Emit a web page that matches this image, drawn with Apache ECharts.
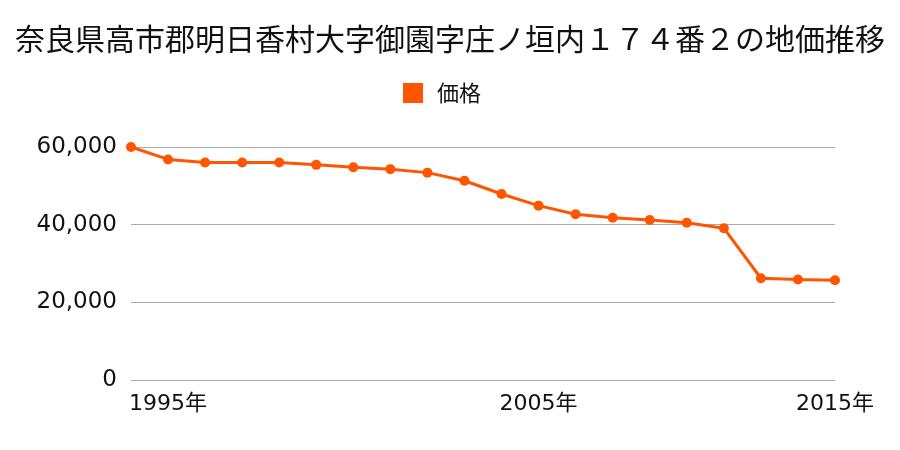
<!DOCTYPE html>
<html><head><meta charset="utf-8">
<script src="https://cdn.jsdelivr.net/npm/echarts@6/dist/echarts.min.js"></script>
<style>html,body{margin:0;padding:0;background:#fff}#c{width:900px;height:450px}</style>
</head><body><div id="c"></div>
<script>
const titleText = '奈良県高市郡明日香村大字御園字庄ノ垣内１７４番２の地価推移';
const seriesName = '価格';
const years = ['1994','1995','1996','1997','1998','1999','2000','2001','2002','2003','2004','2005','2006','2007','2008','2009','2010','2013','2014','2015'];
const prices = [60000,56800,56000,56000,56000,55400,54800,54300,53400,51300,47900,44900,42700,41800,41200,40500,39100,26200,25900,25700];
const shownYearLabels = ['1995','2005','2015'];

const chart = echarts.init(document.getElementById('c'), null, {renderer:'canvas'});
const cjk = '"Noto Sans CJK JP", "Noto Sans", sans-serif';
const num = '"DejaVu Sans", "Noto Sans CJK JP", sans-serif';
chart.setOption({
  animation:false,
  backgroundColor:'#fff',
  title:{text:titleText,left:'center',top:19,textStyle:{fontFamily:cjk,fontSize:30,fontWeight:'normal',color:'#111'}},
  legend:{data:[seriesName],top:77,left:398,itemWidth:20,itemHeight:20,icon:'rect',
    textStyle:{fontFamily:cjk,fontSize:22,color:'#111',padding:[0,0,0,9]}},
  grid:{left:131,right:65,top:147,bottom:70,containLabel:false},
  xAxis:{type:'category',data:years,boundaryGap:false,
    axisLine:{show:false},axisTick:{show:false},splitLine:{show:false},
    axisLabel:{interval:(i,v)=>shownYearLabels.includes(v),formatter:v=>v+'年',margin:13,
      fontFamily:num,fontSize:22,color:'#111'}},
  yAxis:{type:'value',min:0,max:60000,interval:20000,
    axisLine:{show:false},axisTick:{show:false},
    splitLine:{lineStyle:{color:'#aaa',width:1}},
    axisLabel:{margin:14,fontFamily:num,fontSize:23,color:'#111',padding:[4,0,0,0],
      formatter:v=>v.toLocaleString('en-US')}},
  series:[{name:seriesName,type:'line',data:prices,color:'#ff5500',
    lineStyle:{width:3,color:'#ff5500'},symbol:'circle',symbolSize:10,
    itemStyle:{color:'#ff5500'}}]
});
</script></body></html>
